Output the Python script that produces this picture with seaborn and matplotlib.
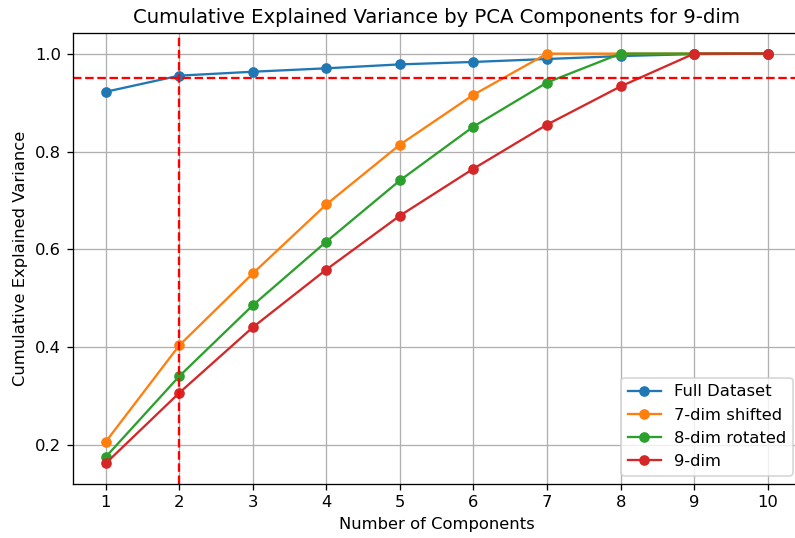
import numpy as np
import pandas as pd
import matplotlib
matplotlib.use("Agg")
import matplotlib.pyplot as plt
import seaborn as sns

components = [1, 2, 3, 4, 5, 6, 7, 8, 9, 10]
full_dataset = [0.922, 0.955, 0.963, 0.970, 0.978, 0.983, 0.989, 0.995, 0.999, 1.0]
dim7_shifted = [0.207, 0.404, 0.551, 0.692, 0.814, 0.916, 1.0, 1.0, 1.0, 1.0]
dim8_rotated = [0.176, 0.341, 0.486, 0.616, 0.741, 0.851, 0.941, 1.0, 1.0, 1.0]
dim9 = [0.163, 0.307, 0.441, 0.559, 0.669, 0.765, 0.855, 0.933, 1.0, 1.0]
series_names = ["Full Dataset", "7-dim shifted", "8-dim rotated", "9-dim"]
threshold = 0.95
chosen_k = 2

rows = []
for name, vals in zip(series_names, [full_dataset, dim7_shifted, dim8_rotated, dim9]):
    for c, v in zip(components, vals):
        rows.append({"Components": c, "Variance": v, "Dataset": name})
df = pd.DataFrame(rows)

DPI = 118
W, H = 795, 538
fig = plt.figure(figsize=(W / DPI, H / DPI), dpi=DPI)
ax = fig.add_axes([72.6 / W, 1 - 483.7 / H, (800.8 - 72.6) / W, (483.7 - 33.3) / H])

sns.lineplot(data=df, x="Components", y="Variance", hue="Dataset",
             palette=["#1f77b4", "#ff7f0e", "#2ca02c", "#d62728"],
             marker="o", markersize=6.5, markeredgewidth=0, linewidth=1.4, ax=ax)

ax.axhline(threshold, color="red", linestyle="--", linewidth=1.4)
ax.axvline(chosen_k, color="red", linestyle="--", linewidth=1.4)

ax.set_xticks(components)
ax.set_xlim(0.55, 10.45)
ax.set_ylim(0.1215, 1.0415)
ax.grid(True, color="#b0b0b0", linewidth=0.8)
ax.set_title("Cumulative Explained Variance by PCA Components for 9-dim", fontsize=12)
ax.set_xlabel("Number of Components")
ax.set_ylabel("Cumulative Explained Variance")
ax.legend(loc="lower right", title=None)

fig.savefig("out.png", dpi=DPI)
